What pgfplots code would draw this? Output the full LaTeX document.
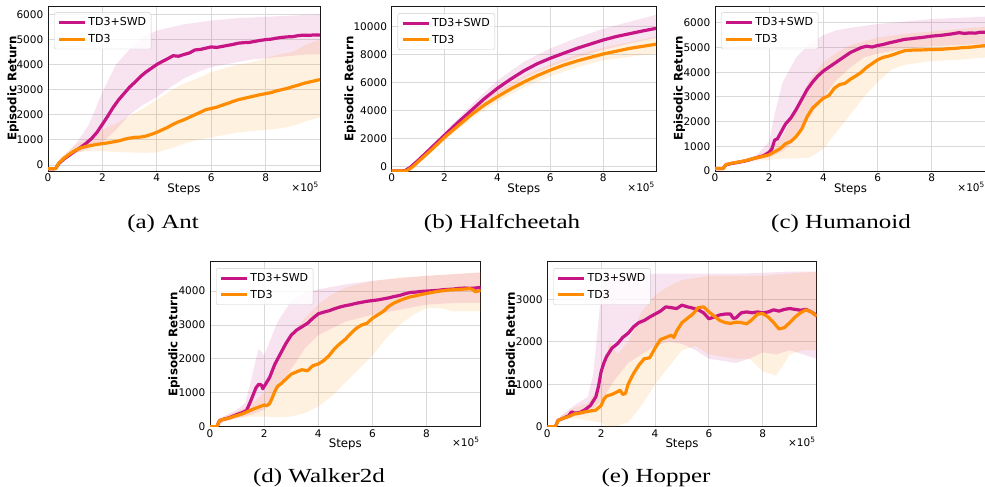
\documentclass[border=0pt]{standalone}
\usepackage{pgfplots}
\pgfplotsset{compat=1.18}
\usepgfplotslibrary{fillbetween}
\usepackage{fontspec}
\setmainfont{DejaVu Sans}
\newfontfamily\capfont[FakeStretch=1.25]{Liberation Serif}
\definecolor{swd}{RGB}{199,21,133}
\definecolor{tdt}{RGB}{255,140,0}
\definecolor{gridc}{RGB}{217,217,217}
\pgfplotsset{
  rl/.style={
    scale only axis, anchor=north west, clip mode=individual,
    xmin=0, xmax=10, xtick={0,2,4,6,8},
    grid=major, major grid style={draw=gridc, line width=0.9pt},
    axis line style={draw=black!90, line width=0.9pt},
    major tick length=0pt,
    tick label style={font=\fontsize{10.5}{10.5}\selectfont},
    /pgf/number format/assume math mode=true,
    /pgf/number format/1000 sep={},
    scaled y ticks=false,
    yticklabel style={xshift=-1.2pt},
    xticklabel style={yshift=0.5pt},
    xlabel={Steps}, ylabel={\bfseries Episodic Return},
    label style={font=\fontsize{11.8}{11.8}\selectfont},
    xlabel style={at={([yshift=-18pt]rel axis cs:0.5,0)}, anchor=center},
    legend style={at={(0,1)}, anchor=north west, xshift=6pt, yshift=-6.5pt,
      draw=black!20, rounded corners=2pt, fill=white, fill opacity=0.8, text opacity=1, draw opacity=1,
      font=\fontsize{11}{13}\selectfont, row sep=3pt, inner xsep=3pt, inner ysep=3pt},
    legend cell align=left,
    legend image code/.code={\draw[#1] (0pt,0pt) -- (26pt,0pt);},
  },
  yl/.style={ylabel style={at={([xshift=#1]rel axis cs:0,0.5)}, anchor=center}},
  sw/.style={draw=swd, line width=3.2pt, line join=round},
  td/.style={draw=tdt, line width=3.2pt, line join=round},
}
\newcommand\xfac{\node[anchor=base east, font=\fontsize{10.5}{10.5}\selectfont, inner sep=0pt] at ([xshift=-1pt,yshift=-20pt]rel axis cs:1,0) {×10\textsuperscript{5}};}
\begin{document}
\begin{tikzpicture}

% ---------------- (a) Ant
\begin{axis}[rl, yl=-35pt, at={(48pt,-6pt)}, width=272pt, height=165pt,
  ymin=-240, ymax=6330, ytick={0,1000,2000,3000,4000,5000,6000}]
\addplot[name path=asu, draw=none, forget plot] coordinates {(0,-100)(0.3,-100)(0.5,300)(1,800)(1.5,1600)(2,2900)(2.5,4000)(3,4600)(3.5,5100)(4,5350)(5,5600)(6,5750)(7,5850)(8,5900)(9,5950)(10,6000)};
\addplot[name path=asl, draw=none, forget plot] coordinates {(0,-200)(0.3,-200)(0.5,150)(1,450)(1.5,650)(2,900)(2.5,1400)(3,2000)(3.5,2400)(4,2700)(4.5,3100)(5,3450)(5.5,3700)(6,3900)(6.5,4000)(7,4100)(7.5,4200)(8,4250)(8.5,4300)(9,4350)(9.5,4400)(10,4400)};
\addplot[fill=swd, fill opacity=0.12, draw=none, forget plot] fill between[of=asu and asl];
\addplot[name path=atu, draw=none, forget plot] coordinates {(0,-100)(0.3,-100)(0.5,300)(1,800)(1.5,1050)(2,1400)(2.5,1650)(3,1950)(3.5,2250)(4,2600)(4.5,2950)(5,3250)(5.5,3450)(6,3700)(6.5,3850)(7,4000)(7.5,4100)(8,4250)(8.5,4400)(9,4500)(9.5,4800)(10,5000)};
\addplot[name path=atl, draw=none, forget plot] coordinates {(0,-200)(0.3,-200)(0.5,150)(1,500)(1.5,550)(2,550)(2.5,520)(3,500)(3.5,480)(4,500)(4.5,650)(5,850)(5.5,1000)(6,1100)(6.5,1200)(7,1300)(7.5,1350)(8,1400)(8.5,1450)(9,1550)(9.5,1750)(10,1900)};
\addplot[fill=tdt, fill opacity=0.12, draw=none, forget plot] fill between[of=atu and atl];
\addplot[sw] coordinates {(0,-150)(0.2,-150)(0.28,-140)(0.4,60)(0.6,250)(0.8,400)(1.0,560)(1.2,700)(1.4,860)(1.6,1050)(1.8,1300)(2.0,1620)(2.2,1950)(2.4,2300)(2.6,2600)(2.8,2850)(3.0,3100)(3.2,3300)(3.4,3520)(3.6,3700)(3.8,3850)(4.0,4000)(4.2,4120)(4.4,4230)(4.6,4350)(4.8,4330)(5.0,4400)(5.2,4460)(5.4,4580)(5.6,4600)(5.8,4650)(6.0,4700)(6.2,4680)(6.4,4720)(6.6,4760)(6.8,4800)(7.0,4850)(7.2,4870)(7.4,4880)(7.6,4920)(7.8,4960)(8.0,4990)(8.2,5010)(8.4,5050)(8.6,5080)(8.8,5100)(9.0,5110)(9.2,5150)(9.4,5170)(9.6,5160)(9.8,5180)(10,5170)};
\addlegendentry{TD3+SWD}
\addplot[td] coordinates {(0,-150)(0.2,-150)(0.28,-140)(0.4,80)(0.6,280)(0.8,440)(1.0,580)(1.2,680)(1.4,740)(1.6,780)(1.8,820)(2.0,850)(2.2,880)(2.4,920)(2.6,960)(2.8,1020)(3.0,1070)(3.2,1100)(3.4,1110)(3.6,1150)(3.8,1220)(4.0,1300)(4.2,1400)(4.4,1500)(4.6,1620)(4.8,1720)(5.0,1800)(5.2,1900)(5.4,2000)(5.6,2100)(5.8,2200)(6.0,2250)(6.2,2300)(6.4,2380)(6.6,2450)(6.8,2530)(7.0,2600)(7.2,2650)(7.4,2700)(7.6,2750)(7.8,2800)(8.0,2840)(8.2,2880)(8.4,2950)(8.6,3000)(8.8,3050)(9.0,3120)(9.2,3180)(9.4,3250)(9.6,3300)(9.8,3350)(10,3400)};
\addlegendentry{TD3}
\xfac
\end{axis}
\node[anchor=base, font=\capfont\fontsize{20}{20}\selectfont] at (163pt,-228pt) {(a) Ant};

% ---------------- (b) Halfcheetah
\begin{axis}[rl, yl=-41.7pt, at={(391.7pt,-6.7pt)}, width=264.3pt, height=164.3pt,
  ymin=-307, ymax=11430, ytick={0,2000,4000,6000,8000,10000}]
\addplot[name path=bsu, draw=none, forget plot] coordinates {(0,-250)(0.5,-250)(1,550)(2,2450)(3,4400)(4,6150)(5,7500)(6,8450)(7,9200)(8,9850)(9,10350)(10,10850)};
\addplot[name path=bsl, draw=none, forget plot] coordinates {(0,-350)(0.5,-350)(1,350)(2,2050)(3,3700)(4,5150)(5,6300)(6,7150)(7,7800)(8,8350)(9,8800)(10,9200)};
\addplot[fill=swd, fill opacity=0.12, draw=none, forget plot] fill between[of=bsu and bsl];
\addplot[name path=btu, draw=none, forget plot] coordinates {(0,-250)(0.5,-250)(1,450)(2,2300)(3,4000)(4,5400)(5,6500)(6,7300)(7,8000)(8,8500)(9,8900)(10,9300)};
\addplot[name path=btl, draw=none, forget plot] coordinates {(0,-350)(0.5,-350)(1,250)(2,1900)(3,3400)(4,4650)(5,5650)(6,6450)(7,7100)(8,7600)(9,7850)(10,8100)};
\addplot[fill=tdt, fill opacity=0.12, draw=none, forget plot] fill between[of=btu and btl];
\addplot[sw] coordinates {(0,-300)(0.4,-300)(0.5,-280)(0.7,-50)(1.0,450)(1.5,1350)(2.0,2250)(2.5,3150)(3.0,4000)(3.5,4850)(4.0,5600)(4.5,6250)(5.0,6850)(5.5,7350)(6.0,7750)(6.5,8100)(7.0,8450)(7.5,8750)(8.0,9050)(8.5,9300)(9.0,9500)(9.5,9700)(10,9880)};
\addlegendentry{TD3+SWD}
\addplot[td] coordinates {(0,-300)(0.5,-300)(0.6,-250)(0.8,0)(1.0,350)(1.5,1200)(2.0,2100)(2.5,2900)(3.0,3700)(3.5,4400)(4.0,5000)(4.5,5550)(5.0,6050)(5.5,6500)(6.0,6900)(6.5,7250)(7.0,7550)(7.5,7800)(8.0,8050)(8.5,8250)(9.0,8450)(9.5,8600)(10,8750)};
\addlegendentry{TD3}
\xfac
\end{axis}
\node[anchor=base, font=\capfont\fontsize{20}{20}\selectfont] at (502pt,-228pt) {(b) Halfcheetah};

% ---------------- (c) Humanoid
\begin{axis}[rl, yl=-35.7pt, at={(715pt,-6pt)}, width=271pt, height=165pt,
  ymin=0, ymax=6680, ytick={0,1000,2000,3000,4000,5000,6000}]
\addplot[name path=csu, draw=none, forget plot] coordinates {(0,120)(0.3,120)(0.5,350)(1,450)(1.5,600)(2.0,1200)(2.2,2300)(2.5,3600)(3.0,4600)(3.5,5150)(4.0,5500)(4.5,5700)(5.0,5800)(6.0,5950)(7.0,6050)(8.0,6150)(9.0,6200)(10,6250)};
\addplot[name path=csl, draw=none, forget plot] coordinates {(0,80)(0.3,80)(0.5,250)(1,330)(1.5,450)(2.0,550)(2.5,800)(3.0,1300)(3.5,2200)(4.0,3000)(4.5,3700)(5.0,4200)(5.5,4600)(6.0,4750)(7.0,4950)(8.0,5050)(9.0,5100)(10,5150)};
\addplot[fill=swd, fill opacity=0.12, draw=none, forget plot] fill between[of=csu and csl];
\addplot[name path=ctu, draw=none, forget plot] coordinates {(0,120)(0.3,120)(0.5,350)(1,450)(1.5,600)(2.0,850)(2.5,1400)(3.0,2500)(3.5,3700)(4.0,4400)(4.5,4800)(5.0,5100)(6.0,5400)(7.0,5550)(8.0,5650)(9.0,5750)(10,5850)};
\addplot[name path=ctl, draw=none, forget plot] coordinates {(0,80)(0.3,80)(0.5,250)(1,320)(1.5,420)(2.0,450)(2.5,500)(3.0,500)(3.5,550)(4.0,900)(4.5,1600)(5.0,2300)(5.5,3000)(6.0,3600)(6.5,4100)(7.0,4300)(8.0,4450)(9.0,4500)(10,4600)};
\addplot[fill=tdt, fill opacity=0.12, draw=none, forget plot] fill between[of=ctu and ctl];
\addplot[sw] coordinates {(0,100)(0.3,100)(0.4,250)(0.6,300)(0.8,340)(1.0,380)(1.2,430)(1.4,500)(1.6,560)(1.8,620)(2.0,760)(2.1,900)(2.2,1250)(2.3,1300)(2.4,1500)(2.6,1900)(2.8,2150)(3.0,2500)(3.2,2900)(3.4,3300)(3.6,3600)(3.8,3850)(4.0,4050)(4.2,4200)(4.4,4350)(4.6,4500)(4.8,4650)(5.0,4800)(5.2,4900)(5.4,5000)(5.6,5050)(5.8,5020)(6.0,5080)(6.2,5120)(6.4,5180)(6.6,5230)(6.8,5280)(7.0,5330)(7.2,5350)(7.4,5380)(7.6,5400)(7.8,5430)(8.0,5460)(8.2,5480)(8.4,5500)(8.6,5530)(8.8,5560)(9.0,5600)(9.2,5570)(9.4,5590)(9.6,5580)(9.8,5620)(10,5620)};
\addlegendentry{TD3+SWD}
\addplot[td] coordinates {(0,100)(0.3,100)(0.4,260)(0.6,310)(0.8,350)(1.0,390)(1.2,440)(1.4,500)(1.6,550)(1.8,600)(2.0,660)(2.2,780)(2.4,900)(2.6,1100)(2.8,1200)(3.0,1400)(3.2,1700)(3.4,2200)(3.6,2550)(3.8,2750)(4.0,2950)(4.2,3050)(4.4,3350)(4.6,3500)(4.8,3550)(5.0,3720)(5.2,3850)(5.4,4000)(5.6,4200)(5.8,4350)(6.0,4500)(6.2,4600)(6.4,4650)(6.6,4720)(6.8,4800)(7.0,4870)(7.2,4890)(7.4,4900)(7.6,4900)(7.8,4910)(8.0,4920)(8.2,4920)(8.4,4930)(8.6,4950)(8.8,4960)(9.0,4980)(9.2,5000)(9.4,5010)(9.6,5030)(9.8,5060)(10,5080)};
\addlegendentry{TD3}
\xfac
\end{axis}
\node[anchor=base, font=\capfont\fontsize{20}{20}\selectfont] at (841pt,-228pt) {(c) Humanoid};

% ---------------- (d) Walker2d
\begin{axis}[rl, yl=-36pt, at={(210pt,-261.7pt)}, width=270.7pt, height=165pt,
  ymin=0, ymax=4867, ytick={0,1000,2000,3000,4000}]
\addplot[name path=dsu, draw=none, forget plot] coordinates {(0,20)(0.3,20)(0.5,300)(1,500)(1.3,700)(1.5,1300)(1.7,2000)(1.8,2300)(2.0,2100)(2.5,3100)(3.0,3700)(3.5,3950)(4.0,4050)(5.0,4200)(6.0,4300)(7.0,4380)(8.0,4450)(9.0,4500)(10,4550)};
\addplot[name path=dsl, draw=none, forget plot] coordinates {(0,0)(0.3,0)(0.5,150)(1,250)(1.5,350)(2.0,500)(2.5,1100)(3.0,1700)(3.5,2300)(4.0,2700)(5.0,3100)(6.0,3300)(7.0,3450)(8.0,3600)(9.0,3650)(10,3650)};
\addplot[fill=swd, fill opacity=0.12, draw=none, forget plot] fill between[of=dsu and dsl];
\addplot[name path=dtu, draw=none, forget plot] coordinates {(0,20)(0.3,20)(0.5,300)(1,450)(1.5,650)(2.0,1000)(2.5,2000)(3.0,2700)(3.5,3200)(4.0,3600)(4.5,3900)(5.0,4100)(6.0,4300)(7.0,4400)(8.0,4450)(9.0,4500)(10,4550)};
\addplot[name path=dtl, draw=none, forget plot] coordinates {(0,0)(0.3,0)(0.5,150)(1,250)(1.5,300)(2.0,300)(2.5,280)(3.0,300)(3.5,400)(4.0,600)(4.5,900)(5.0,1300)(5.5,1700)(6.0,2100)(6.5,2600)(7.0,3000)(7.5,3300)(8.0,3500)(8.5,3500)(9.0,3400)(9.5,3400)(10,3400)};
\addplot[fill=tdt, fill opacity=0.12, draw=none, forget plot] fill between[of=dtu and dtl];
\addplot[sw] coordinates {(0,0)(0.25,0)(0.35,180)(0.5,220)(0.7,260)(0.9,330)(1.0,360)(1.2,420)(1.35,480)(1.5,750)(1.6,950)(1.7,1150)(1.8,1250)(1.9,1230)(1.95,1120)(2.05,1250)(2.2,1450)(2.4,1850)(2.6,2150)(2.8,2450)(3.0,2700)(3.2,2850)(3.4,2950)(3.6,3050)(3.8,3200)(4.0,3330)(4.2,3380)(4.4,3420)(4.6,3480)(4.8,3530)(5.0,3570)(5.2,3600)(5.4,3640)(5.6,3670)(5.8,3700)(6.0,3720)(6.2,3740)(6.4,3770)(6.6,3800)(6.8,3840)(7.0,3870)(7.2,3920)(7.4,3960)(7.6,3970)(7.8,3990)(8.0,4000)(8.2,4010)(8.4,4020)(8.6,4040)(8.8,4050)(9.0,4060)(9.2,4080)(9.4,4090)(9.6,4080)(9.8,4090)(10,4110)};
\addlegendentry{TD3+SWD}
\addplot[td] coordinates {(0,0)(0.25,0)(0.35,180)(0.5,220)(0.7,250)(0.9,310)(1.0,330)(1.2,380)(1.4,450)(1.6,520)(1.8,580)(2.0,640)(2.1,620)(2.2,680)(2.3,850)(2.4,1050)(2.5,1200)(2.6,1250)(2.8,1400)(3.0,1550)(3.2,1620)(3.4,1680)(3.6,1650)(3.8,1800)(4.0,1850)(4.2,1950)(4.4,2100)(4.6,2300)(4.8,2450)(5.0,2580)(5.2,2750)(5.4,2900)(5.6,3000)(5.8,3050)(6.0,3200)(6.2,3300)(6.4,3400)(6.6,3550)(6.8,3650)(7.0,3720)(7.2,3780)(7.4,3830)(7.6,3860)(7.8,3900)(8.0,3930)(8.2,3960)(8.4,3990)(8.6,4010)(8.8,4030)(9.0,4040)(9.2,4050)(9.4,4060)(9.6,4070)(9.7,4050)(9.8,3980)(9.9,4000)(10,4020)};
\addlegendentry{TD3}
\xfac
\end{axis}
\node[anchor=base, font=\capfont\fontsize{20}{20}\selectfont] at (319pt,-482pt) {(d) Walker2d};

% ---------------- (e) Hopper
\begin{axis}[rl, yl=-35.6pt, at={(547.3pt,-261.7pt)}, width=269.4pt, height=165pt,
  ymin=0, ymax=3882, ytick={0,1000,2000,3000}]
\addplot[name path=esu, draw=none, forget plot] coordinates {(0,20)(0.3,20)(0.5,250)(1,500)(1.5,700)(1.7,1200)(1.9,2500)(2.0,3200)(2.2,3500)(3,3550)(4,3600)(5,3600)(6,3600)(7,3600)(8,3620)(9,3650)(10,3650)};
\addplot[name path=esl, draw=none, forget plot] coordinates {(0,0)(0.3,0)(0.5,150)(1,250)(1.5,300)(2.0,600)(2.5,1100)(3.0,1500)(3.5,1700)(4.0,1900)(4.5,2000)(5.0,1950)(5.5,1800)(6.0,1600)(6.5,1550)(7.0,1500)(7.5,1600)(8.0,1750)(8.5,1700)(9.0,1800)(9.5,1700)(10,1600)};
\addplot[fill=swd, fill opacity=0.12, draw=none, forget plot] fill between[of=esu and esl];
\addplot[name path=etu, draw=none, forget plot] coordinates {(0,20)(0.3,20)(0.5,250)(1,450)(1.5,550)(2.0,1000)(2.3,2000)(2.6,1700)(3.0,2000)(3.5,2700)(4.0,3100)(4.5,3300)(5.0,3450)(5.5,3500)(6.0,3550)(7.0,3550)(8.0,3550)(9.0,3600)(10,3650)};
\addplot[name path=etl, draw=none, forget plot] coordinates {(0,0)(0.3,0)(0.5,150)(1,200)(1.5,150)(2.0,100)(2.2,0)(2.5,0)(3.0,100)(3.5,500)(4.0,1000)(4.5,1400)(5.0,1800)(5.5,1900)(6.0,1700)(7.0,1600)(7.5,1600)(8.0,1300)(8.5,1200)(9.0,1700)(9.5,1800)(10,1800)};
\addplot[fill=tdt, fill opacity=0.12, draw=none, forget plot] fill between[of=etu and etl];
\addplot[sw] coordinates {(0,0)(0.3,0)(0.4,150)(0.6,200)(0.8,260)(0.9,350)(1.0,320)(1.2,330)(1.4,400)(1.6,500)(1.8,700)(1.9,950)(2.0,1300)(2.1,1500)(2.2,1650)(2.4,1850)(2.6,1950)(2.8,2100)(3.0,2200)(3.2,2350)(3.4,2450)(3.6,2500)(3.8,2580)(4.0,2650)(4.2,2720)(4.4,2820)(4.6,2800)(4.8,2780)(5.0,2860)(5.2,2820)(5.4,2790)(5.6,2750)(5.8,2680)(6.0,2540)(6.2,2580)(6.4,2630)(6.6,2650)(6.8,2650)(6.9,2550)(7.0,2560)(7.2,2680)(7.4,2700)(7.6,2680)(7.8,2700)(8.0,2680)(8.2,2700)(8.4,2750)(8.6,2720)(8.8,2760)(9.0,2780)(9.2,2760)(9.4,2740)(9.6,2760)(9.8,2700)(10,2620)};
\addlegendentry{TD3+SWD}
\addplot[td] coordinates {(0,0)(0.3,0)(0.4,150)(0.6,200)(0.8,240)(1.0,300)(1.2,320)(1.4,350)(1.6,370)(1.8,390)(2.0,500)(2.1,650)(2.2,720)(2.4,760)(2.6,820)(2.7,860)(2.8,760)(2.9,780)(3.0,1000)(3.2,1250)(3.4,1450)(3.6,1600)(3.8,1620)(4.0,1850)(4.2,2050)(4.4,2100)(4.6,2150)(4.7,2100)(4.8,2250)(5.0,2450)(5.2,2550)(5.4,2650)(5.6,2800)(5.8,2820)(6.0,2700)(6.2,2600)(6.4,2500)(6.6,2450)(6.8,2430)(7.0,2460)(7.2,2450)(7.4,2420)(7.6,2520)(7.8,2650)(8.0,2660)(8.2,2580)(8.4,2450)(8.6,2300)(8.8,2330)(9.0,2450)(9.2,2580)(9.4,2680)(9.6,2750)(9.8,2700)(10,2600)};
\addlegendentry{TD3}
\xfac
\end{axis}
\node[anchor=base, font=\capfont\fontsize{20}{20}\selectfont] at (656pt,-482pt) {(e) Hopper};

\pgfresetboundingbox
\path[use as bounding box] (0,0) rectangle (985pt,-487pt);
\end{tikzpicture}
\end{document}
